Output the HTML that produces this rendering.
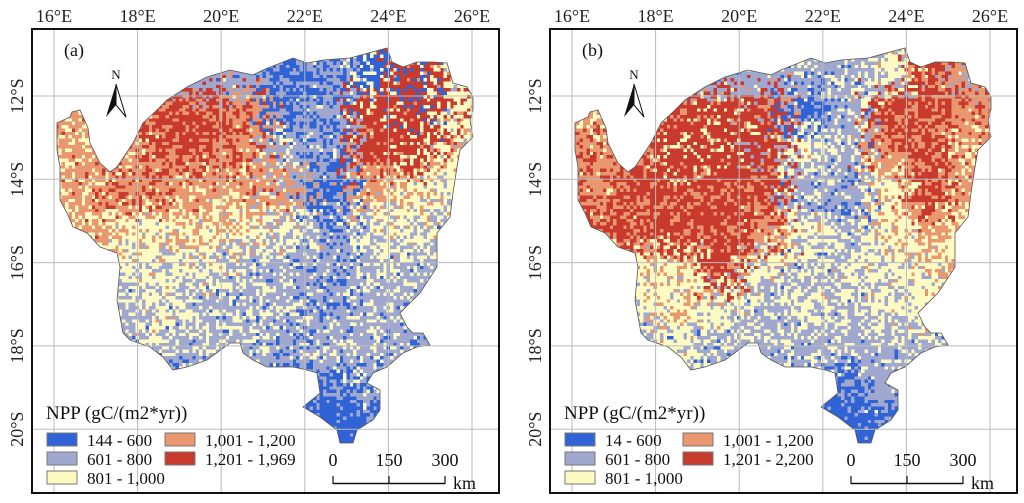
<!DOCTYPE html>
<html><head><meta charset="utf-8"><style>
html,body{margin:0;padding:0;background:#fff}
svg{display:block;font-family:"Liberation Serif",serif}
</style></head><body>
<svg id="fig" width="1024" height="503" viewBox="0 0 1024 503"></svg>
<script>
// class index: 0 blue, 1 grey, 2 yellow, 3 orange, 4 red
const classColors = ["#3063d6","#a1a8cf","#fdfbc2","#e8976f","#c8392e"];
const lonTicks = ["16°E","18°E","20°E","22°E","24°E","26°E"];
const latTicks = ["12°S","14°S","16°S","18°S","20°S"];
const legendA = ["144 - 600","601 - 800","801 - 1,000","1,001 - 1,200","1,201 - 1,969"];
const legendB = ["14 - 600","601 - 800","801 - 1,000","1,001 - 1,200","1,201 - 2,200"];
const scaleLabels = ["0","150","300"];
// coarse dominant/secondary class per region (10 x 10), panel a
const zonesA = [
 ["11","11","11","11","11","01","10","02","40","24"],
 ["32","32","43","43","34","01","10","42","40","24"],
 ["32","32","43","43","34","12","10","43","42","23"],
 ["32","34","34","32","32","31","01","32","23","21"],
 ["32","23","23","23","23","21","10","21","21","12"],
 ["21","21","21","21","12","12","10","12","12","12"],
 ["21","12","21","12","12","12","10","12","12","12"],
 ["12","12","12","12","12","10","12","12","10","10"],
 ["10","10","10","10","10","00","01","10","10","10"],
 ["00","00","00","00","00","00","00","00","00","00"]];
const zonesB = [
 ["11","11","11","11","11","12","12","21","43","31"],
 ["32","32","43","42","43","01","12","43","43","34"],
 ["34","43","42","42","41","21","12","34","43","32"],
 ["34","43","43","43","43","12","10","23","43","32"],
 ["43","43","43","43","34","21","12","23","32","23"],
 ["23","23","23","43","21","12","21","21","23","23"],
 ["21","21","23","21","12","21","12","21","21","21"],
 ["12","12","21","12","12","12","12","12","12","12"],
 ["11","11","11","11","11","01","01","11","11","11"],
 ["00","00","00","00","00","00","00","00","00","00"]];
// basin outline in panel-local px
const outline = [[57,123],[70,117],[72,112],[80,110],[88,128],[90,143],[100,163],[110,172],[117,167],[133,143],[143,123],[157,110],[167,100],[187,87],[207,77],[230,70],[253,75],[263,70],[293,58],[307,63],[323,60],[350,58],[387,48],[392,62],[403,67],[417,62],[433,62],[447,63],[453,83],[467,87],[473,97],[473,110],[470,120],[473,137],[460,150],[457,167],[453,193],[450,217],[437,233],[437,267],[420,293],[400,313],[407,327],[413,333],[423,333],[430,345],[417,347],[403,353],[387,367],[373,373],[367,383],[380,390],[380,410],[373,420],[357,430],[353,443],[340,443],[337,430],[320,417],[303,407],[320,393],[317,373],[307,370],[293,367],[267,367],[253,360],[243,353],[240,343],[230,343],[207,360],[187,367],[173,370],[163,357],[150,347],[130,340],[123,333],[117,300],[120,267],[117,253],[100,247],[87,233],[73,227],[67,213],[60,200],[60,167],[57,150]];

const NS="http://www.w3.org/2000/svg";
const svg=document.getElementById('fig');
function el(tag,attrs,parent){const e=document.createElementNS(NS,tag);for(const k in attrs)e.setAttribute(k,attrs[k]);(parent||svg).appendChild(e);return e;}
function hash(a,b,c){let h=(a*374761393+b*668265263+c*2246822519)>>>0;h=((h^(h>>>13))*1274126177)>>>0;return ((h^(h>>>16))>>>0)/4294967296;}
const lonX=i=>54+i*83.6, latY=i=>96+i*83.3;
const zx0=55,zy0=48,zw=42,zh=40,cell=3.35;

function panel(ox,label,zones,legend,seed){
  const g=el('g',{transform:`translate(${ox},0)`});
  
  
  const cp=el('clipPath',{id:'clip'+label},g);
  el('polygon',{points:outline.map(p=>p.join(',')).join(' ')},cp);
  const ras=el('g',{'clip-path':`url(#clip${label})`,'shape-rendering':'crispEdges'},g);
  
  
  let iy=0;
  for(let y=zy0;y<zy0+zh*10;y+=cell,iy++){
    let ix=0;
    for(let x=zx0;x<zx0+zw*10;x+=cell,ix++){
      const jx=x+(hash(ix,iy,seed+3)-0.5)*40, jy=y+(hash(iy,ix,seed+5)-0.5)*36;
      const ci=Math.max(0,Math.min(9,Math.floor((jx-zx0)/zw))), ri=Math.max(0,Math.min(9,Math.floor((jy-zy0)/zh)));
      const z=zones[ri][ci];
      const r=hash(ix,iy,seed);
      const m=+z[0];
      let k;
      if(r<0.66)k=m;else if(r<0.9)k=+z[1];else{k=m+(hash(iy,ix,seed+7)<0.5?-1:1);k=Math.max(0,Math.min(4,k));}
      el('rect',{x:x.toFixed(2),y:y.toFixed(2),width:cell+0.2,height:cell+0.2,fill:classColors[k]},ras);
    }
  }
  const ol=el('polygon',{points:outline.map(p=>p.join(',')).join(' '),fill:'none',stroke:'#555','stroke-width':0.8},g);
  
  
  lonTicks.forEach((t,i)=>{
    const l=el('line',{x1:lonX(i),x2:lonX(i),y1:29,y2:493,stroke:'#bbb','stroke-width':1},g);
    
    const tx=el('text',{x:lonX(i),y:22,'font-size':18,'text-anchor':'middle',fill:'#222'},g);
    
    tx.textContent=t;
  });
  latTicks.forEach((t,i)=>{
    const l=el('line',{x1:32,x2:499,y1:latY(i),y2:latY(i),stroke:'#bbb','stroke-width':1},g);
    
    const tx=el('text',{x:0,y:0,'font-size':18,'text-anchor':'middle',fill:'#222',transform:`translate(23,${latY(i)}) rotate(-90)`},g);
    
    tx.textContent=t;
  });
  const fr=el('rect',{x:32,y:29,width:467,height:464,fill:'none',stroke:'#111','stroke-width':2},g);
  
  const pl=el('text',{x:64,y:56,'font-size':18,fill:'#111'},g);
  
  pl.textContent='('+label+')';
  const na=el('g',{},g);
  
  el('text',{x:116,y:79,'font-size':13,'text-anchor':'middle',fill:'#111'},na).textContent='N';
  el('polygon',{points:'116,84 106,117 116,105',fill:'#111'},na);
  el('polygon',{points:'116,84 126,117 116,105',fill:'#fff',stroke:'#111','stroke-width':1},na);
  const lg=el('g',{},g);
  
  const lt=el('text',{x:46,y:419,'font-size':19,fill:'#111'},lg);
  
  lt.textContent='NPP (gC/(m2*yr))';
  legend.forEach((s,i)=>{
    const col=i<3?0:1,row=i<3?i:i-3;
    const sx=col?165:47,sy=433+row*19;
    const e=el('g',{},lg);
    
    el('rect',{x:sx,y:sy,width:30,height:13,fill:classColors[i],stroke:'#777','stroke-width':1},e);
    el('text',{x:sx+40,y:sy+13,'font-size':17,fill:'#111'},e).textContent=s;
  });
  const sb=el('g',{},g);
  
  scaleLabels.forEach((s,i)=>{
    const x=333+i*56;
    el('text',{x:x,y:466,'font-size':18,'text-anchor':'middle',fill:'#111'},sb).textContent=s;
    el('line',{x1:x,x2:x,y1:476,y2:484,stroke:'#111','stroke-width':1.2},sb);
  });
  el('line',{x1:333,x2:445,y1:483.5,y2:483.5,stroke:'#111','stroke-width':1.5},sb);
  el('text',{x:453,y:489,'font-size':18,fill:'#111'},sb).textContent='km';
}
panel(0,'a',zonesA,legendA,11);
panel(518,'b',zonesB,legendB,29);
</script>
</body></html>
